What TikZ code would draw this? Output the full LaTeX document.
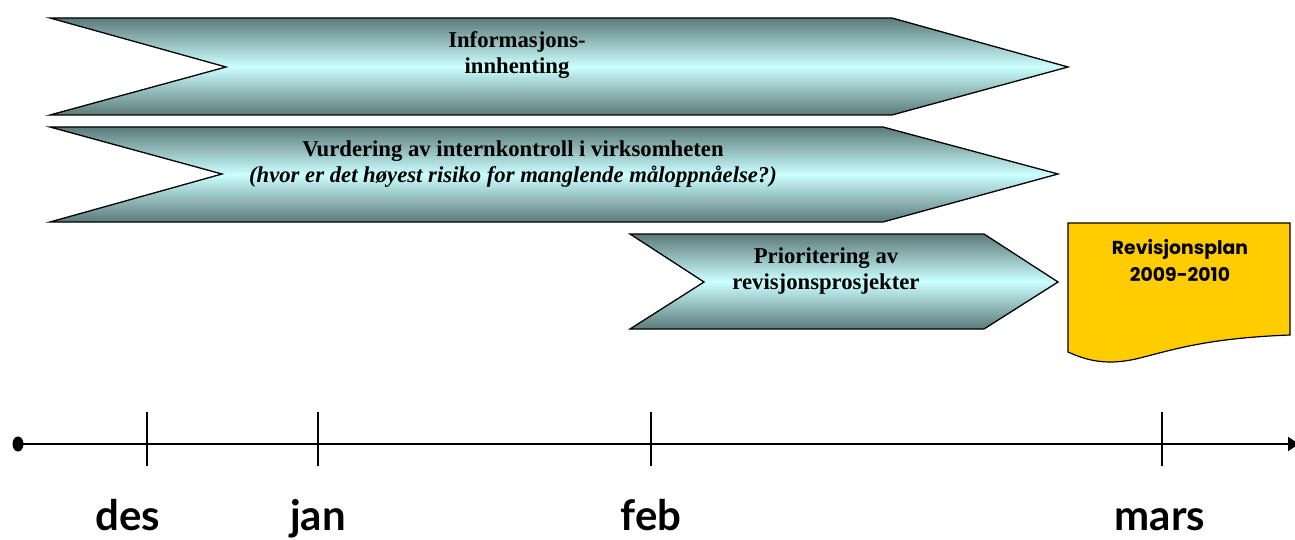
\documentclass[tikz,border=0pt]{standalone}
\usepackage{fontspec}
\setmainfont{Liberation Serif}
\newfontfamily\latofont{Lato}
\newfontfamily\popfont{Poppins}
\usetikzlibrary{arrows.meta}
\definecolor{darkteal}{RGB}{92,122,122}
\definecolor{lightcyan}{RGB}{204,255,255}
\definecolor{planyellow}{RGB}{255,204,0}
\tikzset{
  chevron/.style={draw=black, line width=1.3pt, line join=miter,
    top color=darkteal, bottom color=darkteal, middle color=lightcyan},
  chevtext/.style={font=\bfseries\fontsize{22.7}{25.5}\selectfont, align=center, inner sep=0pt},
  monthlabel/.style={font=\latofont\bfseries\fontsize{42}{46}\selectfont, anchor=base, inner sep=0pt},
  tick/.style={line width=1.3pt},
}
\begin{document}
\begin{tikzpicture}[x=1pt,y=-1pt]
\useasboundingbox (0,0) rectangle (1295,540);

% chevrons
\path[chevron] (50,18) -- (892,18) -- (1068,67) -- (892,115) -- (50,115) -- (226,67) -- cycle;
\path[chevron] (50,127) -- (883,127) -- (1058,174) -- (883,222) -- (50,222) -- (222,174) -- cycle;
\path[chevron] (630,234) -- (984,234) -- (1058,282) -- (984,329) -- (630,329) -- (704,282) -- cycle;

\node[chevtext] (info) at (517,55) {Informasjons-\\innhenting};
\node[chevtext] (vurd) at (513,164) {Vurdering av internkontroll i virksomheten\\\textit{(hvor er det høyest risiko for manglende måloppnåelse?)}};
\node[chevtext] (prio) at (826,271) {Prioritering av\\revisjonsprosjekter};

% document shape
\path[fill=planyellow, draw=black, line width=1.2pt]
  (1068,223) -- (1290,223) -- (1290,335)
  .. controls (1210,338) and (1175,349) .. (1140,358)
  .. controls (1108,366) and (1088,361) .. (1068,352) -- cycle;
\node[font=\popfont\bfseries\fontsize{18.8}{27}\selectfont, align=center, inner sep=0pt] (plan) at (1180,260) {Revisjonsplan\\2009-2010};

% timeline
\coordinate (tlstart) at (18,444);
\coordinate (tlend) at (1299,444);
\fill (tlstart) ellipse (5.5 and 7.5);
\draw[line width=2.2pt, -{Triangle[length=11pt,width=14pt]}] (tlstart) -- (tlend);

\coordinate (tdes) at (147,444);
\coordinate (tjan) at (318,444);
\coordinate (tfeb) at (651,444);
\coordinate (tmar) at (1162,444);
\foreach \t in {tdes,tjan,tfeb,tmar}{
  \draw[tick] ([yshift=32pt]\t) -- ([yshift=-22pt]\t);
}
\node[monthlabel] (des) at (128,530) {des};
\node[monthlabel] (jan) at (318,530) {jan};
\node[monthlabel] (feb) at (651,530) {feb};
\node[monthlabel] (mars) at (1160,530) {mars};
\end{tikzpicture}
\end{document}
